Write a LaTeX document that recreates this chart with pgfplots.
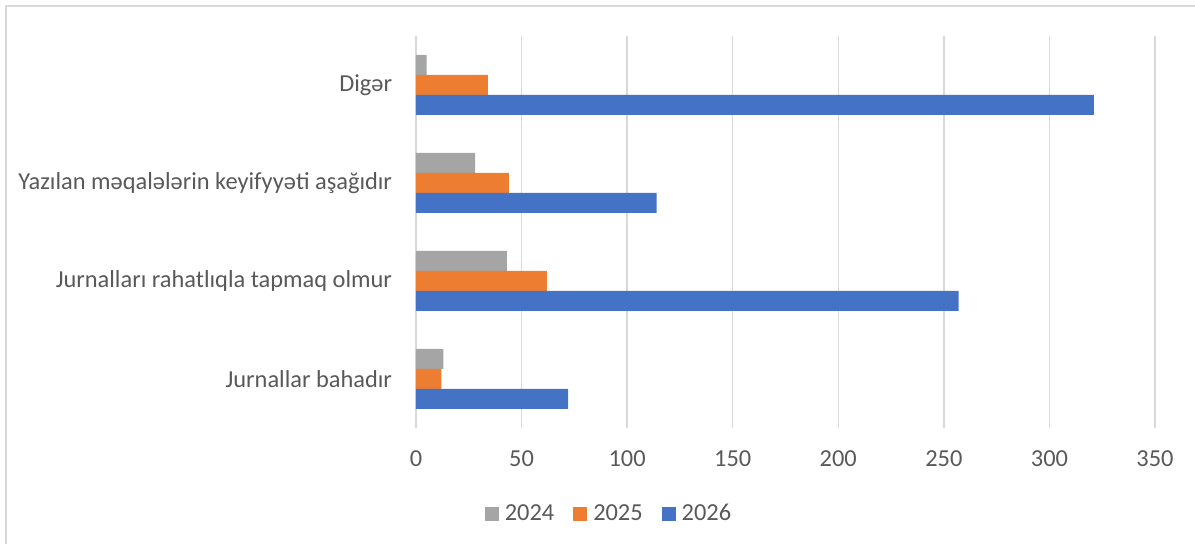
\documentclass[border=0pt]{standalone}
\usepackage{pgfplots}
\pgfplotsset{compat=1.18}
\usepackage{fontspec}
\setmainfont{Carlito}
\definecolor{c2024}{HTML}{A5A5A5}
\definecolor{c2025}{HTML}{ED7D31}
\definecolor{c2026}{HTML}{4472C4}
\definecolor{gridgray}{HTML}{D9D9D9}
\definecolor{labelgray}{HTML}{595959}
\begin{document}
\begin{tikzpicture}
\useasboundingbox (0,0) rectangle (597.5pt,272pt);
\draw[line width=1pt, gridgray] (2.85pt,-5pt) |- (605pt,268.75pt);
\begin{axis}[
  at={(208pt,58pt)}, anchor=south west,
  scale only axis, width=369.5pt, height=196pt,
  xbar, bar width=10pt,
  xmin=0, xmax=350, ymin=-0.5, ymax=3.5,
  xtick={0,50,...,350},
  ytick={0,1,2,3},
  yticklabels={Jurnallar bahadır, Jurnalları rahatlıqla tapmaq olmur, Yazılan məqalələrin keyifyyəti aşağıdır, Digər},
  axis line style={draw=none},
  major tick style={draw=none},
  minor tick style={draw=none},
  xmajorgrids, grid style={draw=gridgray, line width=0.75pt},
  /pgf/number format/assume math mode=true,
  ticklabel style={font=\fontsize{12.2}{14}\selectfont, text=labelgray},
  xticklabel style={anchor=center, yshift=-15.5pt},
  yticklabel style={anchor=east, inner sep=0pt, xshift=-7.5pt},
  legend style={at={(0.2598,-0.2186)}, anchor=center, legend columns=3, draw=none, fill=none,
    font=\fontsize{12.2}{14}\selectfont, text=labelgray,
    nodes={inner sep=0pt},
    /tikz/every odd column/.append style={column sep=3pt},
    /tikz/every even column/.append style={column sep=9.5pt}},
  legend image code/.code={\fill[#1] (0pt,-3.5pt) rectangle (7pt,3.5pt);},
]
\addplot[fill=c2024, draw=none, bar shift=10pt] coordinates {(13,0) (43,1) (28,2) (5,3)};
\addplot[fill=c2025, draw=none, bar shift=0pt] coordinates {(12,0) (62,1) (44,2) (34,3)};
\addplot[fill=c2026, draw=none, bar shift=-10pt] coordinates {(72,0) (257,1) (114,2) (321,3)};
\legend{2024,2025,2026}
\end{axis}
\end{tikzpicture}
\end{document}
